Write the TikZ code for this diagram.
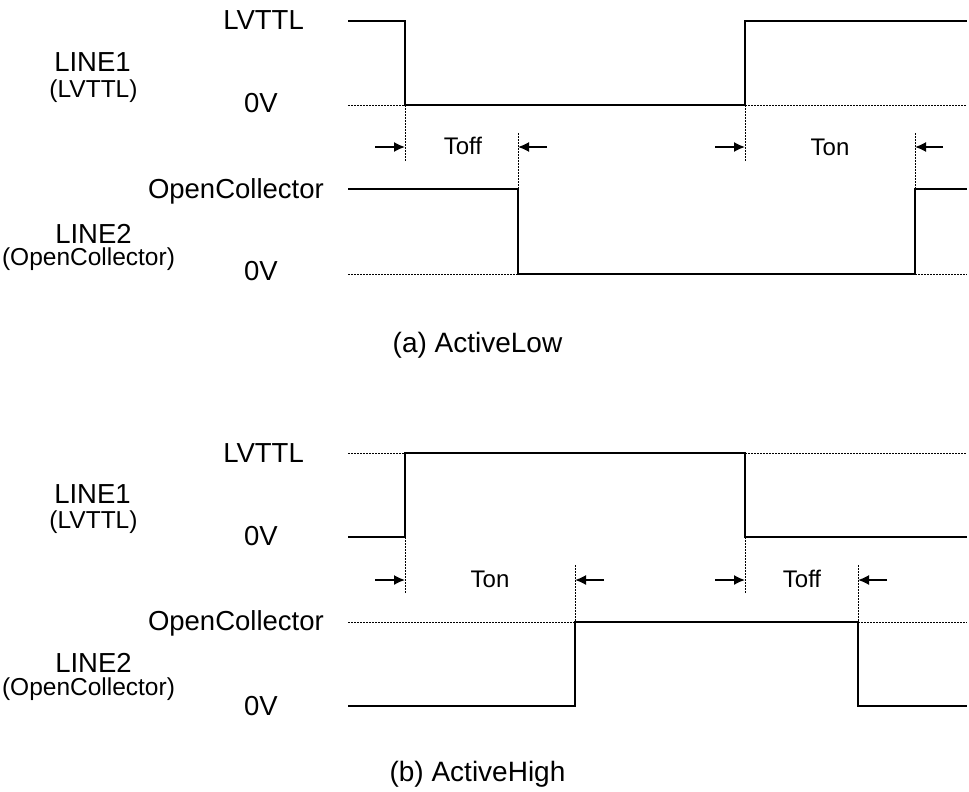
\documentclass[tikz,border=0pt]{standalone}
\usepackage{fontspec}
\setmainfont{Liberation Sans}
\usetikzlibrary{arrows.meta}
\begin{document}
\begin{tikzpicture}[x=1pt,y=-1pt,
  sig/.style={line width=2.4pt, line join=miter},
  guide/.style={line width=1pt, dash pattern=on 1.5pt off 1.5pt},
  tarrow/.style={line width=1.6pt, -{Latex[length=11pt,width=10pt]}},
  big/.style={inner sep=0pt, font=\fontsize{27.5}{32}\selectfont},
  small/.style={inner sep=0pt, font=\fontsize{24.5}{29}\selectfont},
  captxt/.style={inner sep=0pt, anchor=base, font=\fontsize{28}{32}\selectfont},
  tim/.style={inner sep=0pt, anchor=base, font=\fontsize{24}{28}\selectfont}]
\useasboundingbox (0,0) rectangle (969,792);

% ---------------- (a) ActiveLow ----------------
\draw[sig] (348,21) -- (405,21) -- (405,105) -- (745,105) -- (745,21) -- (967,21);
\draw[guide] (348,105) -- (405,105);
\draw[guide] (745,105) -- (967,105);
\draw[sig] (348,189) -- (518,189) -- (518,274) -- (915,274) -- (915,189) -- (967,189);
\draw[guide] (348,274) -- (518,274);
\draw[guide] (915,274) -- (967,274);

\coordinate (aT1) at (405,105); \coordinate (aB1) at (405,161);
\coordinate (aT2) at (518,133); \coordinate (aB2) at (518,189);
\coordinate (aT3) at (745,105); \coordinate (aB3) at (745,161);
\coordinate (aT4) at (915,133); \coordinate (aB4) at (915,189);
\draw[guide] (aT1) -- (aB1);
\draw[guide] (aT2) -- (aB2);
\draw[guide] (aT3) -- (aB3);
\draw[guide] (aT4) -- (aB4);

\coordinate (aA1s) at (375,147); \coordinate (aA1e) at (405,147);
\coordinate (aA2s) at (547,147); \coordinate (aA2e) at (518,147);
\coordinate (aA3s) at (715,147); \coordinate (aA3e) at (745,147);
\coordinate (aA4s) at (943,147); \coordinate (aA4e) at (915,147);
\draw[tarrow] (aA1s) -- (aA1e);
\draw[tarrow] (aA2s) -- (aA2e);
\draw[tarrow] (aA3s) -- (aA3e);
\draw[tarrow] (aA4s) -- (aA4e);

\node[big, anchor=base east] (aLV) at (304,29.5) {LVTTL};
\node[big, anchor=base east] (a0V1) at (278,112.5) {0V};
\node[big, anchor=base east] (aOC) at (324,198) {OpenCollector};
\node[big, anchor=base east] (a0V2) at (278,280) {0V};
\node[big, anchor=base] (aL1) at (92.5,72) {LINE1};
\node[small, anchor=base] (aL1s) at (93.5,97.5) {(LVTTL)};
\node[big, anchor=base] (aL2) at (93.5,243) {LINE2};
\node[small, anchor=base] (aL2s) at (88.5,265.5) {(OpenCollector)};
\node[tim] (aToff) at (463,154.5) {Toff};
\node[tim] (aTon) at (830,155) {Ton};
\node[captxt] (acap) at (477.5,352.5) {(a) ActiveLow};

% ---------------- (b) ActiveHigh ----------------
\draw[sig] (348,537) -- (405,537) -- (405,453) -- (745,453) -- (745,537) -- (967,537);
\draw[guide] (348,453) -- (405,453);
\draw[guide] (745,453) -- (967,453);
\draw[sig] (348,706) -- (575,706) -- (575,622) -- (858,622) -- (858,706) -- (967,706);
\draw[guide] (348,622) -- (575,622);
\draw[guide] (858,622) -- (967,622);

\coordinate (bT1) at (405,537); \coordinate (bB1) at (405,593);
\coordinate (bT2) at (575,565); \coordinate (bB2) at (575,622);
\coordinate (bT3) at (745,537); \coordinate (bB3) at (745,593);
\coordinate (bT4) at (858,565); \coordinate (bB4) at (858,622);
\draw[guide] (bT1) -- (bB1);
\draw[guide] (bT2) -- (bB2);
\draw[guide] (bT3) -- (bB3);
\draw[guide] (bT4) -- (bB4);

\coordinate (bA1s) at (375,580); \coordinate (bA1e) at (405,580);
\coordinate (bA2s) at (604,580); \coordinate (bA2e) at (575,580);
\coordinate (bA3s) at (715,580); \coordinate (bA3e) at (745,580);
\coordinate (bA4s) at (887,580); \coordinate (bA4e) at (858,580);
\draw[tarrow] (bA1s) -- (bA1e);
\draw[tarrow] (bA2s) -- (bA2e);
\draw[tarrow] (bA3s) -- (bA3e);
\draw[tarrow] (bA4s) -- (bA4e);

\node[big, anchor=base east] (bLV) at (304,462) {LVTTL};
\node[big, anchor=base east] (b0V1) at (278,545) {0V};
\node[big, anchor=base east] (bOC) at (324,630) {OpenCollector};
\node[big, anchor=base east] (b0V2) at (278,715) {0V};
\node[big, anchor=base] (bL1) at (92.5,503) {LINE1};
\node[small, anchor=base] (bL1s) at (93.5,528.5) {(LVTTL)};
\node[big, anchor=base] (bL2) at (93.5,672) {LINE2};
\node[small, anchor=base] (bL2s) at (88.5,695.5) {(OpenCollector)};
\node[tim] (bTon) at (490,587) {Ton};
\node[tim] (bToff) at (802,587) {Toff};
\node[captxt] (bcap) at (477.5,781) {(b) ActiveHigh};
\end{tikzpicture}
\end{document}
